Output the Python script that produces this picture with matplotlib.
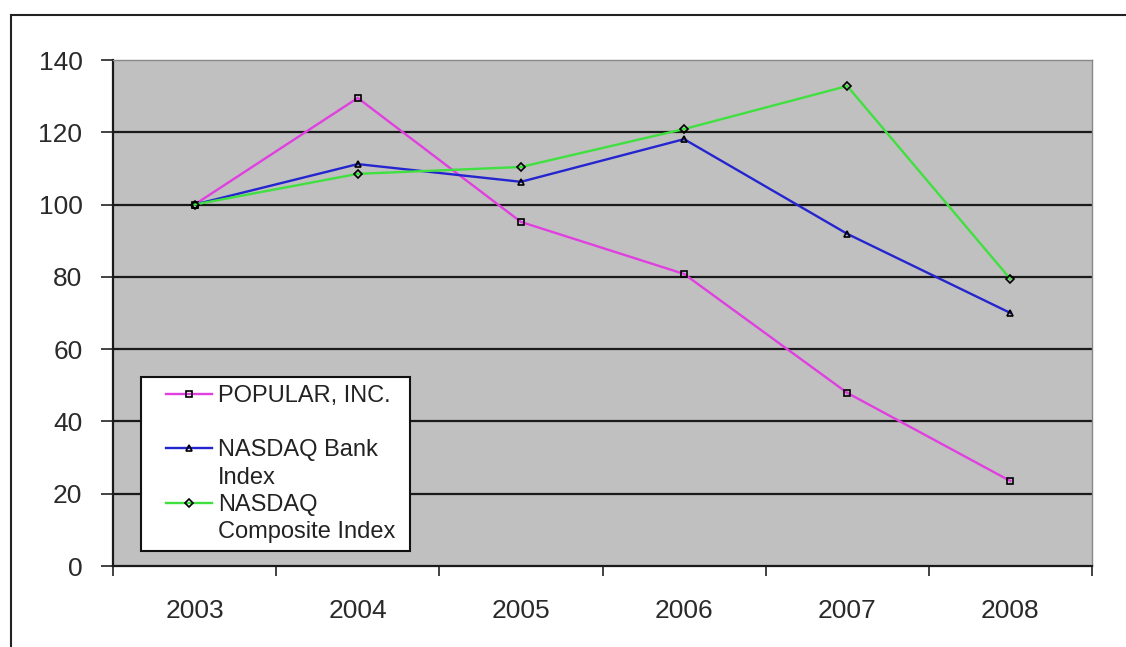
import matplotlib.pyplot as plt
import numpy as np
from matplotlib.patches import Rectangle
from matplotlib.lines import Line2D
from matplotlib.legend_handler import HandlerLine2D

years = ['2003', '2004', '2005', '2006', '2007', '2008']
popular = [100, 129.5, 95.2, 80.8, 47.9, 23.5]
bank = [100, 111.2, 106.3, 118.1, 91.9, 70.0]
composite = [100, 108.5, 110.4, 120.9, 132.8, 79.4]
labels = ['POPULAR, INC.', 'NASDAQ Bank\nIndex', 'NASDAQ\nComposite Index']

plt.rcParams['font.family'] = ['Liberation Sans', 'DejaVu Sans']

W, H = 1126, 647
fig = plt.figure(figsize=[W / 100, H / 100], dpi=100)
fig.patch.set_facecolor('white')

# outer chart border (cropped on right and bottom)
fig.patches.append(Rectangle((11 / W, -0.1), 1.2, 1 - 15 / H + 0.1, transform=fig.transFigure,
                             fill=False, edgecolor='#222222', linewidth=1.5))

ax = fig.add_axes([113 / W, 1 - 566 / H, (1092 - 113) / W, (566 - 60) / H])
ax.set_facecolor('#c0c0c0')

x = np.arange(len(years))
mk = dict(markersize=5, markerfacecolor='none', markeredgecolor='black', markeredgewidth=1.2)
l1, = ax.plot(x, popular, color='#e040e0', lw=1.7, marker='s', zorder=4, **mk)
l2, = ax.plot(x, bank, color='#2525d0', lw=1.7, marker='^', zorder=4, **mk)
l3, = ax.plot(x, composite, color='#40e040', lw=1.7, marker='D', zorder=4,
              **dict(mk, markersize=4.5))

ax.set_xlim(-0.5, 5.5)
ax.set_ylim(0, 140)
ax.set_yticks(range(0, 141, 20))
for yv in range(20, 140, 20):
    ax.axhline(yv, color='#1a1a1a', lw=1.6, zorder=2)

ax.set_xticks(np.arange(-0.5, 6, 1))
ax.set_xticklabels([])
ax.set_xticks(x, minor=True)
ax.set_xticklabels(years, minor=True)
ax.tick_params(axis='x', which='major', length=7, width=1.2, color='#222222', direction='out')
ax.tick_params(axis='x', which='minor', length=0, pad=24, labelsize=19, labelcolor='#2a2a2a')
ax.tick_params(axis='y', length=9, width=1.2, color='#222222', pad=13, labelsize=19, labelcolor='#2a2a2a')

for side in ['left', 'bottom']:
    ax.spines[side].set_color('#1a1a1a')
    ax.spines[side].set_linewidth(1.6)
for side in ['top', 'right']:
    ax.spines[side].set_color('#888888')
    ax.spines[side].set_linewidth(1.0)

# legend: one row per text line, key drawn on the first line of each entry
blank = Line2D([], [], linestyle='none', marker='none')
handles, texts = [], []
for h, lab in zip([l1, l2, l3], labels):
    parts = lab.split('\n') if '\n' in lab else [lab, ' ']
    handles += [h, blank]
    texts += parts
texts[-1] = texts[-1] + ' '
leg = ax.legend(handles, texts, loc='lower left',
                bbox_to_anchor=((141 - 113) / (1092 - 113), (566 - 551) / (566 - 60)),
                fontsize=17, frameon=True, fancybox=False, framealpha=1,
                edgecolor='#111111', handlelength=2.67, labelspacing=0.22,
                borderpad=0.34, handletextpad=0.25, borderaxespad=0,
                handler_map={Line2D: HandlerLine2D(xpad=0.73)})
leg.get_frame().set_linewidth(1.5)
for t in leg.get_texts():
    t.set_color('#222222')

plt.savefig('out.png', dpi=100)
